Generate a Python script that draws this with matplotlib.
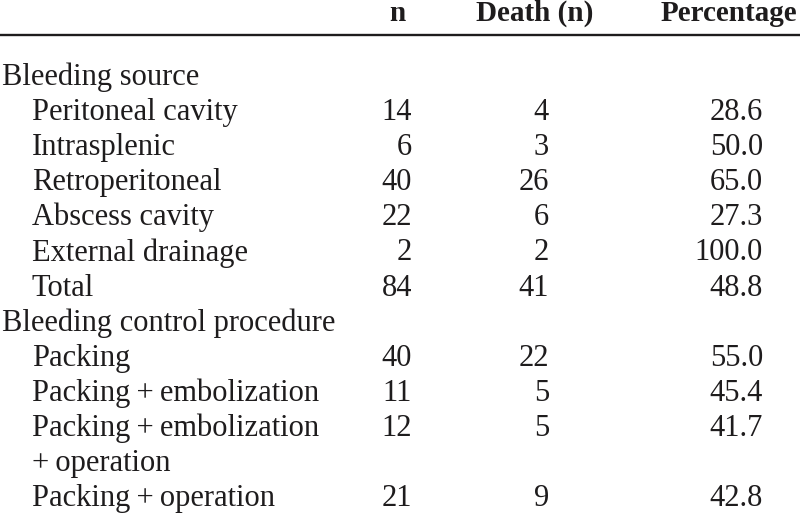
import matplotlib.pyplot as plt

# table content
labels = ["Bleeding source", "Peritoneal cavity", "Intrasplenic", "Retroperitoneal",
          "Abscess cavity", "External drainage", "Total",
          "Bleeding control procedure", "Packing", "Packing\u2009+\u2009embolization",
          "Packing\u2009+\u2009embolization", "+\u2009operation", "Packing\u2009+\u2009operation"]
indent = [0, 1, 1, 1, 1, 1, 1, 0, 1, 1, 1, 1, 1]
n_vals = ["", "14", "6", "40", "22", "2", "84", "", "40", "11", "12", "", "21"]
death_vals = ["", "4", "3", "26", "6", "2", "41", "", "22", "5", "5", "", "9"]
pct_vals = ["", "28.6", "50.0", "65.0", "27.3", "100.0", "48.8", "", "55.0", "45.4", "41.7", "", "42.8"]
headers = ["n", "Death (n)", "Percentage"]

W, H = 800, 513
fig = plt.figure(figsize=(W / 100, H / 100), dpi=100)
ax = fig.add_axes([0, 0, 1, 1])
ax.set_xlim(0, W)
ax.set_ylim(H, 0)
ax.axis("off")

col = "#1e1c1d"
fs = 22
font = "Liberation Serif"

# header
head_x = [397.5, 534.5, 729]
for hx, h in zip(head_x, headers):
    ax.text(hx, 21, h, ha="center", va="baseline", fontsize=21, fontweight="bold",
            family=font, color=col)
ax.plot([0, W], [35, 35], color=col, lw=1.7, solid_capstyle="butt")

# body
y0, dy = 85, 35.1
val_x = [412, 549, 763]
for i, lab in enumerate(labels):
    y = y0 + i * dy
    x = 32 if indent[i] else 2
    ax.text(x, y, lab, ha="left", va="baseline", fontsize=fs, family=font, color=col)
    for vx, v in zip(val_x, (n_vals[i], death_vals[i], pct_vals[i])):
        if v:
            ax.text(vx, y, v, ha="right", va="baseline", fontsize=fs, family=font, color=col)

fig.savefig("out.png", dpi=100)
